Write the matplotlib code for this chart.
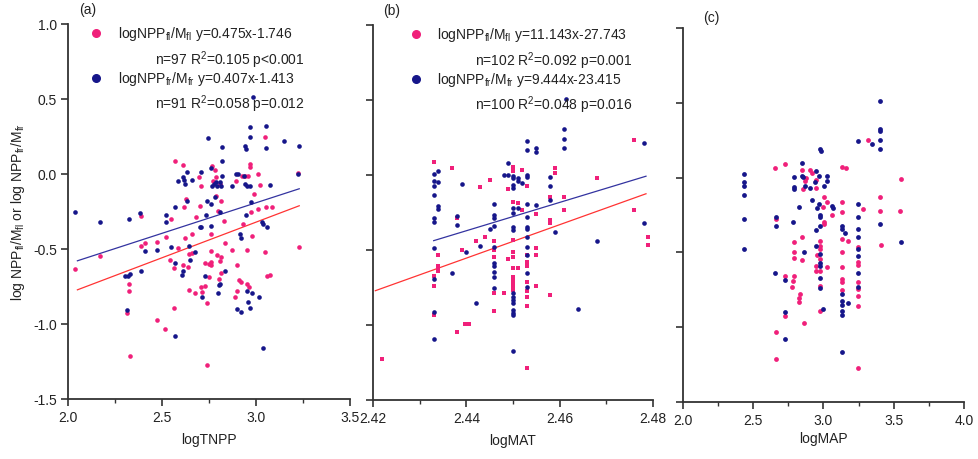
import numpy as np
import matplotlib
matplotlib.use('Agg')
import matplotlib.pyplot as plt
from matplotlib.ticker import MultipleLocator

plt.rcParams['font.family'] = ['Liberation Sans', 'DejaVu Sans']
plt.rcParams['mathtext.fontset'] = 'custom'
plt.rcParams['mathtext.rm'] = 'Liberation Sans'
plt.rcParams['mathtext.it'] = 'Liberation Sans'

PINK = '#f0207a'
NAVY = '#16168a'

# ---- panel (a): logTNPP ----
a_fl_x = [2.567, 2.612, 2.629, 2.617, 2.546, 2.387, 2.695, 2.709, 2.700, 2.679, 2.661, 2.624, 2.523, 2.475, 2.411,
          2.390, 2.766, 2.784, 2.771, 2.789, 2.807, 2.789, 2.812, 2.798, 2.762, 2.830, 2.833, 2.895, 2.927, 2.943,
          2.957, 2.966, 2.966, 3.011, 3.020, 3.046, 2.988, 2.975, 3.011, 3.055, 3.085, 2.931, 2.979, 3.223, 3.229,
          2.039, 2.168, 2.541, 2.564, 2.585, 2.612, 2.638, 2.642, 2.660, 2.324, 2.324, 2.316, 2.330, 2.475, 2.518,
          2.564, 2.644, 2.677, 2.706, 2.713, 2.730, 2.741, 2.741, 2.730, 2.748, 2.759, 2.759, 2.759, 2.748, 2.793,
          2.807, 2.816, 2.801, 2.812, 2.874, 2.901, 2.908, 2.918, 2.901, 2.887, 2.952, 2.952, 2.961, 3.050, 3.060,
          3.073]
a_fl_y = [0.089, 0.060, -0.167, -0.222, -0.300, -0.282, -0.022, -0.082, -0.211, -0.289, -0.400, -0.429, -0.422, -0.451, -0.460,
          -0.478, 0.056, 0.027, -0.044, -0.018, -0.067, -0.144, -0.178, -0.244, -0.400, -0.311, -0.460, -0.044, -0.011, -0.011,
          -0.011, 0.067, 0.044, 0.000, -0.073, 0.249, -0.133, -0.256, -0.233, -0.222, -0.222, -0.333, -0.411, 0.007, -0.484,
          -0.633, -0.544, -0.571, -0.627, -0.496, -0.604, -0.622, -0.533, -0.527, -0.733, -0.782, -0.927, -1.216, -0.973, -1.033,
          -0.893, -0.773, -0.793, -0.756, -0.784, -0.744, -0.862, -1.273, -0.593, -0.600, -0.589, -0.607, -0.516, -0.689, -0.540,
          -0.578, -0.556, -0.700, -0.660, -0.504, -0.604, -0.704, -0.718, -0.782, -0.822, -0.504, -0.733, -0.756, -0.522, -0.682,
          -0.673]
a_fr_x = [2.039, 2.168, 2.324, 2.381, 2.523, 2.520, 2.567, 2.585, 2.612, 2.615, 2.624, 2.635, 2.635, 2.660, 2.709,
          2.732, 2.741, 2.745, 2.759, 2.762, 2.766, 2.777, 2.780, 2.789, 2.794, 2.807, 2.816, 2.819, 2.819, 2.810,
          2.759, 2.700, 2.706, 2.819, 2.874, 2.895, 2.904, 2.940, 2.949, 2.936, 2.940, 2.954, 2.966, 2.975, 2.970,
          2.966, 2.945, 2.913, 2.922, 3.034, 3.037, 3.060, 3.055, 3.051, 3.073, 3.149, 3.229, 3.223, 2.550, 2.984,
          2.305, 2.319, 2.328, 2.316, 2.387, 2.408, 2.475, 2.567, 2.612, 2.608, 2.642, 2.647, 2.674, 2.567, 2.730,
          2.713, 2.801, 2.810, 2.798, 2.833, 2.952, 2.979, 2.957, 2.966, 2.901, 2.918, 3.014, 3.037]
a_fr_y = [-0.256, -0.322, -0.300, -0.262, -0.273, -0.322, -0.222, -0.047, -0.022, -0.040, -0.069, 0.011, -0.180, -0.040, 0.011,
          -0.273, -0.178, 0.238, -0.200, 0.038, -0.082, -0.067, -0.156, -0.056, -0.082, -0.056, -0.082, 0.089, 0.178, -0.256,
          -0.344, -0.351, -0.356, -0.011, -0.082, 0.000, 0.000, 0.189, 0.167, -0.011, -0.067, -0.078, -0.078, -0.189, 0.311,
          0.249, -0.273, -0.400, -0.429, -0.318, -0.333, -0.351, 0.322, 0.171, -0.073, 0.218, 0.189, -0.002, -0.484, 0.513,
          -0.678, -0.678, -0.667, -0.904, -0.644, -0.516, -0.504, -0.593, -0.644, -0.673, -0.482, -0.571, -0.522, -1.082, -0.682,
          -0.822, -0.740, -0.733, -0.793, -0.644, -0.778, -0.793, -0.851, -0.893, -0.900, -0.922, -0.822, -1.162]

# ---- panel (b): logMAT ----
b_fl_x = [2.433, 2.437, 2.438, 2.443, 2.445, 2.442, 2.444, 2.446, 2.449, 2.450, 2.450, 2.450, 2.450, 2.451, 2.452,
          2.452, 2.453, 2.455, 2.455, 2.458, 2.458, 2.458, 2.459, 2.459, 2.461, 2.461, 2.468, 2.476, 2.476, 2.479,
          2.479,
          2.422, 2.434, 2.434, 2.434, 2.434, 2.433, 2.433, 2.433, 2.438, 2.4398, 2.4405, 2.439, 2.446, 2.446, 2.446,
          2.446, 2.448, 2.449, 2.450, 2.450, 2.450, 2.450, 2.450, 2.450, 2.450, 2.450, 2.450, 2.450, 2.451, 2.453,
          2.453, 2.453, 2.453, 2.453, 2.453, 2.453, 2.453, 2.455, 2.455, 2.458]
b_fl_y = [0.084, 0.044, -0.289, -0.082, -0.033, -0.438, -0.416, -0.438, -0.091, 0.056, 0.029, -0.178, -0.433, -0.189, 0.033,
          -0.233, -0.073, -0.260, -0.489, -0.149, -0.300, -0.318, 0.044, 0.016, -0.149, -0.233, -0.022, 0.233, -0.233, -0.416,
          -0.467,
          -1.229, -0.533, -0.607, -0.622, -0.638, -0.673, -0.740, -0.933, -1.049, -0.993, -0.993, -0.500, -0.500, -0.544, -0.789,
          -0.904, -0.789, -0.560, -0.511, -0.549, -0.618, -0.678, -0.689, -0.700, -0.711, -0.722, -0.744, -0.767, -0.618, -0.533,
          -0.578, -0.607, -0.711, -0.771, -0.811, -0.873, -1.284, -0.533, -0.740, -0.800]
b_fr_x = [2.433, 2.434, 2.433, 2.434, 2.433, 2.433, 2.434, 2.434, 2.433, 2.433, 2.433, 2.438, 2.438, 2.439, 2.443,
          2.445, 2.446, 2.446, 2.446, 2.446, 2.448, 2.449, 2.449, 2.450, 2.450, 2.451, 2.451, 2.450, 2.450, 2.450,
          2.450, 2.450, 2.450, 2.451, 2.452, 2.453, 2.453, 2.453, 2.453, 2.453, 2.453, 2.453, 2.453, 2.453, 2.453,
          2.455, 2.455, 2.455, 2.458, 2.458, 2.458, 2.459, 2.461, 2.461, 2.461, 2.468, 2.478, 2.478, 2.4613,
          2.433, 2.433, 2.433, 2.437, 2.440, 2.442, 2.446, 2.446, 2.446, 2.446, 2.446, 2.446, 2.450, 2.450, 2.450,
          2.450, 2.450, 2.450, 2.450, 2.450, 2.453, 2.453, 2.453, 2.464]
b_fr_y = [0.007, 0.029, -0.038, -0.049, -0.073, -0.133, -0.207, -0.229, -0.289, -0.311, -0.489, -0.273, -0.333, -0.060, -0.473,
          -0.362, -0.193, -0.267, -0.289, -0.340, 0.000, 0.082, 0.000, -0.007, -0.022, -0.022, -0.038, -0.067, -0.089, -0.222,
          -0.256, -0.344, -0.367, -0.222, -0.051, 0.000, -0.016, 0.227, 0.167, -0.193, -0.278, -0.344, -0.362, -0.411, -0.478,
          0.178, 0.156, -0.200, -0.011, -0.073, -0.167, -0.378, 0.304, 0.238, 0.178, -0.440, 0.211, -0.322, 0.507,
          -0.693, -0.911, -1.093, -0.651, -0.511, -0.856, -0.478, -0.589, -0.607, -0.649, -0.682, -0.751, -0.789, -0.811, -0.833,
          -0.856, -0.900, -0.918, -0.933, -1.173, -0.533, -0.651, -0.744, -0.893]

# ---- panel (c): logMAP ----
c_fl_x = [2.655, 2.726, 2.845, 2.905, 2.917, 2.874, 2.869, 2.948, 2.945, 2.852, 3.129, 3.160, 3.317, 3.552, 3.005,
          3.024, 3.000, 3.060, 3.005, 3.005, 3.129, 3.129, 3.279, 3.400, 3.400, 3.543, 2.662, 2.845, 2.793, 2.976,
          3.129, 3.174, 3.243, 3.410,
          2.790, 2.790, 2.850, 2.726, 2.790, 2.786, 2.779, 2.833, 2.826, 2.826, 2.862, 2.726, 2.660, 2.660, 2.948,
          2.948, 2.976, 3.024, 2.952, 2.976, 2.976, 2.976, 2.976, 2.976, 3.131, 3.131, 3.131, 3.131, 3.131, 3.243,
          3.243, 3.243, 3.243, 3.243, 3.243, 3.243]
c_fl_y = [0.062, 0.091, 0.051, 0.051, 0.031, -0.005, -0.020, -0.014, -0.070, -0.076, 0.073, 0.062, 0.251, -0.009, -0.127,
          -0.165, -0.199, -0.250, -0.294, -0.310, -0.161, -0.228, -0.210, -0.127, -0.221, -0.221, -0.277, -0.399, -0.428, -0.421,
          -0.410, -0.421, -0.462, -0.450,
          -0.499, -0.537, -0.548, -0.659, -0.659, -0.688, -0.733, -0.777, -0.806, -0.829, -0.971, -0.922, -1.029, -1.212, -0.593,
          -0.622, -0.622, -0.599, -0.517, -0.459, -0.477, -0.544, -0.722, -0.889, -0.499, -0.599, -0.677, -0.700, -0.749, -0.566,
          -0.584, -0.700, -0.744, -0.789, -0.860, -1.274]
c_fr_x = [3.405, 3.405, 3.405, 3.405, 3.405, 3.243, 3.345, 2.976, 2.980, 2.850, 2.433, 2.433, 2.433, 2.433, 2.433,
          2.433, 2.793, 2.793, 2.793, 2.845, 2.852, 2.871, 2.905, 2.948, 2.971, 2.940, 3.005, 3.024, 3.024, 2.917,
          2.829, 2.971, 2.952, 2.976, 2.976, 2.948, 2.976, 3.060, 3.071, 3.131, 3.131, 3.155, 3.243, 3.243, 3.243,
          3.243, 3.400, 3.552, 2.662, 2.662, 2.781, 2.948,
          2.655, 2.726, 2.726, 2.726, 2.864, 2.976, 2.976, 2.976, 2.976, 2.976, 2.995, 3.131, 3.131, 3.131, 3.131,
          3.131, 3.131, 3.174, 3.243, 3.243, 3.243, 3.243]
c_fr_y = [0.514, 0.325, 0.314, 0.251, 0.191, 0.242, 0.225, 0.191, 0.180, 0.095, 0.022, -0.032, -0.058, -0.116, -0.277,
          -0.477, 0.002, -0.065, -0.076, 0.009, 0.002, -0.054, -0.070, 0.046, 0.009, -0.032, -0.058, 0.013, -0.020, -0.147,
          -0.199, -0.176, -0.205, -0.250, -0.266, -0.348, -0.321, -0.188, -0.205, -0.321, -0.343, -0.370, -0.176, -0.266, -0.343,
          -0.399, -0.310, -0.428, -0.261, -0.321, -0.299, -0.455,
          -0.639, -0.682, -0.900, -1.078, -0.499, -0.510, -0.570, -0.588, -0.673, -0.740, -0.878, -0.777, -0.822, -0.851, -0.889,
          -0.918, -1.163, -0.840, -0.477, -0.521, -0.639, -0.733]

# regression fits: slope, intercept, x range of fitted line
a_fit_fl = (0.475, -1.746, 2.05, 3.23)
a_fit_fr = (0.407, -1.413, 2.05, 3.23)
b_fit_fl = (11.143, -27.743, 2.4205, 2.4785)
b_fit_fr = (9.444, -23.415, 2.433, 2.4785)

a_text = ['logNPP$_{fl}$/M$_{fl}$ y=0.475x-1.746', 'n=97 R$^2$=0.105 p<0.001',
          'logNPP$_{fr}$/M$_{fr}$ y=0.407x-1.413', 'n=91 R$^2$=0.058 p=0.012']
b_text = ['logNPP$_{fl}$/M$_{fl}$ y=11.143x-27.743', 'n=102 R$^2$=0.092 p=0.001',
          'logNPP$_{fr}$/M$_{fr}$ y=9.444x-23.415', 'n=100 R$^2$=0.048 p=0.016']

fig = plt.figure(figsize=(9.79, 4.6), dpi=100)
ax_a = fig.add_axes([68/979, 60/460, 282/979, 375/460])
ax_b = fig.add_axes([373/979, 59/460, 280/979, 375/460])
ax_c = fig.add_axes([683/979, 57/460, 281/979, 374/460])


def style(ax, xlim, major, minor, xlabel, ylabels, pad):
    ax.set_xlim(*xlim)
    ax.set_ylim(-1.5, 1.0)
    ax.spines['top'].set_visible(False)
    ax.spines['right'].set_visible(False)
    ax.spines['left'].set_color('#333333')
    ax.spines['bottom'].set_color('#333333')
    ax.spines['left'].set_linewidth(1.3)
    ax.spines['bottom'].set_linewidth(1.3)
    ax.xaxis.set_major_locator(MultipleLocator(major))
    ax.xaxis.set_minor_locator(MultipleLocator(minor))
    ax.yaxis.set_major_locator(MultipleLocator(0.5))
    ax.tick_params(which='major', length=5, width=1.2, color='#333333', labelsize=10, pad=3,
                   labelcolor='#222222')
    ax.tick_params(which='minor', axis='x', length=3, width=1.0, color='#333333')
    ax.set_xlabel(xlabel, fontsize=10, labelpad=pad, color='#222222')
    if not ylabels:
        ax.set_yticklabels([])


def fit_line(ax, fit, color):
    k, b, x0, x1 = fit
    xs = np.array([x0, x1])
    ax.plot(xs, k * xs + b, color=color, lw=0.9)


def legend_text(ax, texts, mx, tx, rx):
    ax.scatter([mx], [0.976], s=30, color=PINK, transform=ax.transAxes, clip_on=False)
    ax.scatter([mx], [0.856], s=30, color=NAVY, transform=ax.transAxes, clip_on=False)
    kw = dict(transform=ax.transAxes, fontsize=10, va='center', color='#222222')
    ax.text(tx, 0.976, texts[0], ha='left', **kw)
    ax.text(rx, 0.907, texts[1], ha='right', **kw)
    ax.text(tx, 0.856, texts[2], ha='left', **kw)
    ax.text(rx, 0.789, texts[3], ha='right', **kw)


style(ax_a, (2.0, 3.5), 0.5, 0.25, 'logTNPP', True, 6)
ax_a.set_xticks([2.0, 2.5, 3.0, 3.5])
ax_a.set_xticklabels(['2.0', '2.5', '3.0', '3.5'])
ax_a.set_yticks([-1.5, -1.0, -0.5, 0.0, 0.5, 1.0])
ax_a.set_yticklabels(['-1.5', '-1.0', '-0.5', '0.0', '0.5', '1.0'])
ax_a.set_ylabel('log NPP$_{fl}$/M$_{fl}$ or log NPP$_{fr}$/M$_{fr}$', fontsize=10, labelpad=4, color='#222222')
ax_a.scatter(a_fl_x, a_fl_y, s=11, color=PINK, zorder=3, lw=0)
ax_a.scatter(a_fr_x, a_fr_y, s=11, color=NAVY, zorder=3, lw=0)
fit_line(ax_a, a_fit_fl, '#ff3333')
fit_line(ax_a, a_fit_fr, '#3333a0')
legend_text(ax_a, a_text, 0.099, 0.177, 0.840)
ax_a.text(0.04, 1.03, '(a)', transform=ax_a.transAxes, fontsize=10, color='#222222')

style(ax_b, (2.42, 2.48), 0.02, 0.01, 'logMAT', False, 6)
ax_b.set_xticks([2.42, 2.44, 2.46, 2.48])
ax_b.set_xticklabels(['2.42', '2.44', '2.46', '2.48'])
ax_b.scatter(b_fl_x, b_fl_y, s=8, color=PINK, marker='s', zorder=3, lw=0)
ax_b.scatter(b_fr_x, b_fr_y, s=11, color=NAVY, zorder=3, lw=0)
fit_line(ax_b, b_fit_fl, '#ff3333')
fit_line(ax_b, b_fit_fr, '#3333a0')
legend_text(ax_b, b_text, 0.154, 0.229, 0.925)
ax_b.text(0.035, 1.03, '(b)', transform=ax_b.transAxes, fontsize=10, color='#222222')

style(ax_c, (2.0, 4.0), 0.5, 0.25, 'logMAP', False, 3)
ax_c.set_xticks([2.0, 2.5, 3.0, 3.5, 4.0])
ax_c.set_xticklabels(['2.0', '2.5', '3.0', '3.5', '4.0'])
ax_c.scatter(c_fl_x, c_fl_y, s=12, color=PINK, zorder=3, lw=0)
ax_c.scatter(c_fr_x, c_fr_y, s=12, color=NAVY, zorder=3, lw=0)
ax_c.text(0.07, 1.02, '(c)', transform=ax_c.transAxes, fontsize=10, color='#222222')

plt.savefig('out.png', dpi=100)
